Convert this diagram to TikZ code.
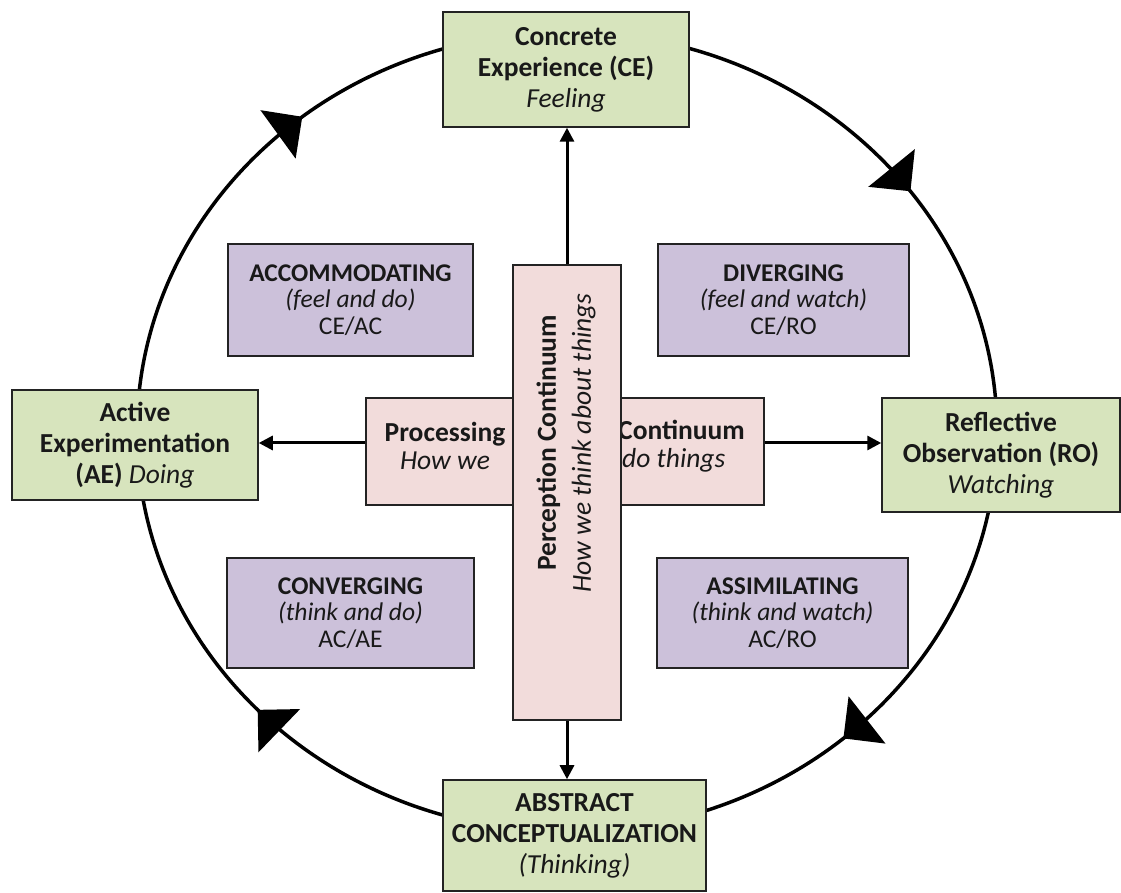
\documentclass[tikz,border=0pt]{standalone}
\usepackage{fontspec}
\setmainfont{Carlito}
\usetikzlibrary{arrows.meta}
\definecolor{boxgreen}{RGB}{215,228,189}
\definecolor{boxpurple}{RGB}{204,193,218}
\definecolor{boxpink}{RGB}{242,220,219}
\definecolor{edgegray}{RGB}{35,35,35}
\definecolor{txt}{RGB}{25,25,25}
\begin{document}
\begin{tikzpicture}[x=1pt,y=1pt,
  greenbox/.style={draw=edgegray, line width=1.5pt, fill=boxgreen, align=center, inner sep=0pt, text=txt,
    font=\fontsize{27.5}{31}\selectfont},
  purplebox/.style={draw=edgegray, line width=1.5pt, fill=boxpurple, align=center, inner sep=0pt, text=txt,
    font=\fontsize{25.5}{26.5}\selectfont},
  pinkbox/.style={draw=edgegray, line width=1.5pt, fill=boxpink, inner sep=0pt},
  pinktext/.style={inner sep=0pt, text=txt, font=\fontsize{27.5}{28.5}\selectfont},
  cyclearrow/.style={line width=3.5pt, black},
  axisarrow/.style={line width=3pt, -{Triangle[length=14pt,width=14pt]}}
]
\useasboundingbox (0,0) rectangle (1121,893);

% learning cycle
\draw[cyclearrow] (567,461) ellipse [x radius=430, y radius=400];
\foreach \t in {128,37,-50,224}{
  \pgfmathsetmacro\ang{atan2(-400*cos(\t),430*sin(\t))}
  \fill[shift={({567+430*cos(\t)},{461+400*sin(\t)})}, rotate=\ang] (0,0) -- (-30,30) -- (-30,-30) -- cycle;
}

% mode boxes
\node[greenbox, minimum width=246, minimum height=115] (ce) at (566,823.5)
  {\textbf{Concrete}\\\textbf{Experience (CE)}\\\textit{Feeling}};
\node[greenbox, minimum width=246, minimum height=110] (ae) at (135,448)
  {\textbf{Active}\\\textbf{Experimentation}\\\textbf{(AE)} \textit{Doing}};
\node[greenbox, minimum width=238, minimum height=114] (ro) at (1001,438)
  {\textbf{Reflective}\\\textbf{Observation (RO)}\\\textit{Watching}};
\node[greenbox, minimum width=263, minimum height=111] (ac) at (574.5,57.5)
  {\textbf{ABSTRACT}\\\textbf{CONCEPTUALIZATION}\\\textit{(Thinking)}};

% style boxes
\node[purplebox, minimum width=245, minimum height=112] (acc) at (350.5,593)
  {\textbf{ACCOMMODATING}\\\textit{(feel and do)}\\CE/AC};
\node[purplebox, minimum width=251, minimum height=112] (div) at (783.5,593)
  {\textbf{DIVERGING}\\\textit{(feel and watch)}\\CE/RO};
\node[purplebox, minimum width=247, minimum height=110] (conv) at (350.5,280)
  {\textbf{CONVERGING}\\\textit{(think and do)}\\AC/AE};
\node[purplebox, minimum width=251, minimum height=110] (assim) at (782.5,280)
  {\textbf{ASSIMILATING}\\\textit{(think and watch)}\\AC/RO};

% central cross
\node[pinkbox, minimum width=398, minimum height=107] (hbox) at (565,441.5) {};
\node[pinkbox, minimum width=108, minimum height=455] (vbox) at (567,400.5) {};
\coordinate (hc) at (566,450);

\draw[axisarrow] (vbox.north) -- (vbox.north |- ce.south);
\draw[axisarrow] (vbox.south) -- (vbox.south |- ac.north);
\draw[axisarrow] (hbox.west |- hc) -- (ae.east |- hc);
\draw[axisarrow] (hbox.east |- hc) -- (ro.west |- hc);

\node[pinkbox, minimum width=398, minimum height=107] (hbox2) at (565,441.5) {};
\node[pinktext, align=center] (proc) at (445,447) {\textbf{Processing}\\\textit{How we}};
\node[pinktext, align=left, anchor=west] (cont) at (618,447) {\textbf{Continuum}\\\hspace{4pt}\textit{do things}};
\node[pinkbox, minimum width=108, minimum height=455] (vbox2) at (567,400.5) {};
\node[pinktext, align=center, rotate=90, font=\fontsize{27.5}{35}\selectfont] (perc) at (566,450)
  {\textbf{Perception Continuum}\\\textit{How we think about things}};
\end{tikzpicture}
\end{document}
